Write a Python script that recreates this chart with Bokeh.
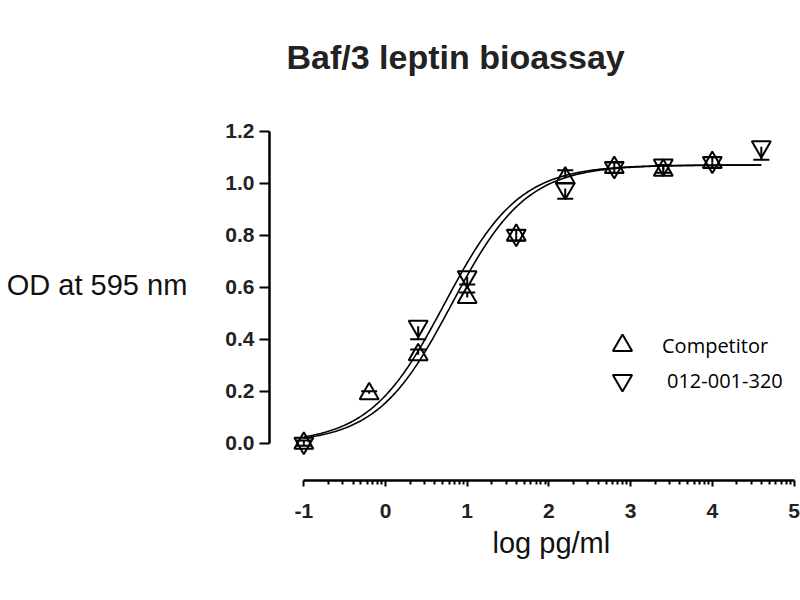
import numpy as np
from bokeh.plotting import figure
from bokeh.models import (FixedTicker, Whisker, TeeHead, ColumnDataSource,
                          Legend, LegendItem, Title)
from bokeh.embed import file_html
from bokeh.resources import INLINE

# log concentration of each dilution (-1 stands for the blank)
log_conc = [-1.0, -0.2, 0.4, 1.0, 1.6, 2.2, 2.8, 3.4, 4.0, 4.6]

# mean OD at 595 nm and error
competitor = [0.00, 0.19, 0.34, 0.56, 0.80, 1.02, 1.06, 1.05, 1.08, np.nan]
competitor_err = [0.01, 0.01, 0.02, 0.02, 0.02, 0.03, 0.02, 0.02, 0.02, np.nan]
sample = [0.00, np.nan, 0.45, 0.64, 0.80, 0.98, 1.06, 1.07, 1.08, 1.14]
sample_err = [0.01, np.nan, 0.05, 0.03, 0.02, 0.04, 0.02, 0.03, 0.02, 0.05]

# four parameter logistic fits (bottom, top, logEC50, hill)
competitor_fit = (0.0, 1.07, 0.81, 0.95)
sample_fit = (0.0, 1.07, 0.72, 0.95)

x_ticks = [-1, 0, 1, 2, 3, 4, 5]
x_labels = ["-1", "0", "1", "2", "3", "4", "5"]
y_ticks = [0.0, 0.2, 0.4, 0.6, 0.8, 1.0, 1.2]
y_labels = ["0.0", "0.2", "0.4", "0.6", "0.8", "1.0", "1.2"]

FONT = "Liberation Sans"


def logistic(x, fit):
    bottom, top, ec50, hill = fit
    return bottom + (top - bottom) / (1 + 10 ** ((ec50 - x) * hill))


p = figure(width=800, height=590, x_range=(-1.42, 5.055), y_range=(-0.1435, 1.3642),
           output_backend="svg", toolbar_location=None,
           min_border_left=269, min_border_right=2, min_border_top=88,
           min_border_bottom=110)
p.outline_line_color = None
p.grid.visible = False

p.title.text = "Baf/3 leptin bioassay"
p.title.align = "left"
p.title.offset = 17
p.title.standoff = 26
p.title.text_font = FONT
p.title.text_font_size = "34px"
p.title.text_font_style = "bold"
p.title.text_color = "#222222"

# curves
xs = np.linspace(log_conc[0], log_conc[-1], 300)
p.line(xs, logistic(xs, competitor_fit), line_color="black", line_width=1.6)
p.line(xs, logistic(xs, sample_fit), line_color="black", line_width=1.6)

# error bars: up for competitor, down for the sample
comp_src = ColumnDataSource(dict(x=log_conc, y=competitor,
                                 up=list(np.array(competitor) + np.array(competitor_err))))
samp_src = ColumnDataSource(dict(x=log_conc, y=sample,
                                 lo=list(np.array(sample) - np.array(sample_err))))
p.add_layout(Whisker(source=comp_src, base="x", lower="y", upper="up",
                     line_color="black", line_width=2, lower_head=None,
                     upper_head=TeeHead(size=16, line_width=2, line_color="black")))
p.add_layout(Whisker(source=samp_src, base="x", lower="lo", upper="y",
                     line_color="black", line_width=2, upper_head=None,
                     lower_head=TeeHead(size=16, line_width=2, line_color="black")))

r_comp = p.scatter("x", "y", source=comp_src, marker="triangle", size=19,
                   line_color="black", line_width=2, fill_alpha=0)
r_samp = p.scatter("x", "y", source=samp_src, marker="inverted_triangle", size=19,
                   line_color="black", line_width=2, fill_alpha=0)

# one legend per series so the rows can sit close together
for label, rend, loc, standoff in [("Competitor", r_comp, (329, 111), 16),
                                   ("012-001-320", r_samp, (329, 76), 21)]:
    p.add_layout(Legend(items=[LegendItem(label=label, renderers=[rend])],
                        location=loc, glyph_width=48, glyph_height=48,
                        label_height=20, label_standoff=standoff, padding=0,
                        margin=0, border_line_color=None, background_fill_alpha=0,
                        label_text_font="Open Sans", label_text_font_size="20px",
                        label_text_color="black"), "center")

# axes
for ax in (p.xaxis[0], p.yaxis[0]):
    ax.axis_line_width = 2.5
    ax.major_tick_line_width = 2
    ax.major_label_text_font = FONT
    ax.major_label_text_font_style = "bold"
    ax.major_label_text_font_size = "21px"
    ax.major_label_text_color = "#222222"
    ax.major_tick_in = 0

p.xaxis.ticker = FixedTicker(
    ticks=x_ticks,
    minor_ticks=[d + np.log10(k) for d in x_ticks[:-1] for k in range(2, 10)])
p.xaxis.major_label_overrides = dict(zip(x_ticks, x_labels))
p.xaxis.bounds = (x_ticks[0], x_ticks[-1])
p.xaxis.major_tick_out = 6
p.xaxis.minor_tick_out = 4
p.xaxis.minor_tick_in = 0
p.xaxis.minor_tick_line_width = 2
p.xaxis.major_label_standoff = 17

p.yaxis.ticker = FixedTicker(ticks=y_ticks, minor_ticks=[])
p.yaxis.major_label_overrides = dict(zip(y_ticks, y_labels))
p.yaxis.bounds = (y_ticks[0], y_ticks[-1])
p.yaxis.major_tick_out = 10
p.yaxis.minor_tick_line_color = None
p.yaxis.major_label_standoff = 5
p.yaxis.axis_label = "OD at 595 nm"
p.yaxis.axis_label_orientation = "horizontal"
p.yaxis.axis_label_standoff = 35
p.yaxis.axis_label_text_font = FONT
p.yaxis.axis_label_text_font_style = "normal"
p.yaxis.axis_label_text_font_size = "29px"
p.yaxis.axis_label_text_color = "#111111"

p.add_layout(Title(text="log pg/ml", align="left", offset=223, standoff=8,
                   text_font=FONT, text_font_size="29px", text_font_style="normal",
                   text_color="#111111"), "below")

open("out.html", "w").write(file_html(p, INLINE))
